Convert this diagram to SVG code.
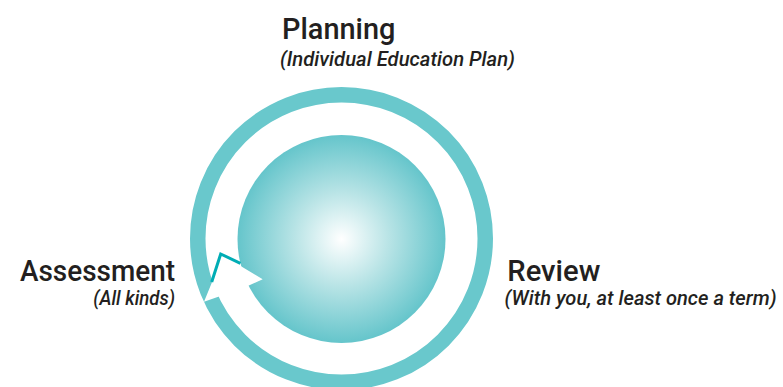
<svg xmlns="http://www.w3.org/2000/svg" width="783" height="387" viewBox="0 0 783 387">
  <style>
    .title { font-family: Roboto, "Liberation Sans", Arial, sans-serif; font-weight: 500; font-size: 29.5px; fill: #231f20; }
    .sub { font-family: Roboto, "Liberation Sans", Arial, sans-serif; font-style: italic; font-weight: 500; font-size: 21px; fill: #231f20; }
  </style>
  <defs>
    <radialGradient id="sphereGrad" cx="341.5" cy="239" r="104" gradientUnits="userSpaceOnUse">
      <stop offset="0" stop-color="#ffffff"/>
      <stop offset="0.45" stop-color="#b9e4e6"/>
      <stop offset="1" stop-color="#65c5cb"/>
    </radialGradient>
  </defs>
  <rect width="783" height="387" fill="#ffffff"/>

  <g id="center-sphere">
    <circle cx="341.5" cy="239" r="104" fill="url(#sphereGrad)"/>
  </g>

  <g id="connectors">
    <circle cx="341.5" cy="238.5" r="143.75" fill="none" stroke="#69c8cc" stroke-width="15.5"/>
    <polygon points="212.3,281.5 220.7,254 262.7,279.3 248.3,285.7 218.3,296.7 204,301.7" fill="#ffffff"/>
    <polyline points="211.7,282 220.7,254 240.4,263.3" fill="none" stroke="#00adb5" stroke-width="3" stroke-linejoin="miter"/>
  </g>

  <g id="planning">
    <text class="title" x="282" y="38.7" textLength="113.5" lengthAdjust="spacingAndGlyphs">Planning</text>
    <text class="sub" x="280" y="66" textLength="235" lengthAdjust="spacingAndGlyphs">(Individual Education Plan)</text>
  </g>

  <g id="assessment">
    <text class="title" x="20" y="280.7" textLength="155" lengthAdjust="spacingAndGlyphs">Assessment</text>
    <text class="sub" x="93.3" y="304.5" textLength="81.7" lengthAdjust="spacingAndGlyphs">(All kinds)</text>
  </g>

  <g id="review">
    <text class="title" x="507.3" y="280.7" textLength="93" lengthAdjust="spacingAndGlyphs">Review</text>
    <text class="sub" x="504.5" y="304.5" textLength="272" lengthAdjust="spacingAndGlyphs">(With you, at least once a term)</text>
  </g>
</svg>
